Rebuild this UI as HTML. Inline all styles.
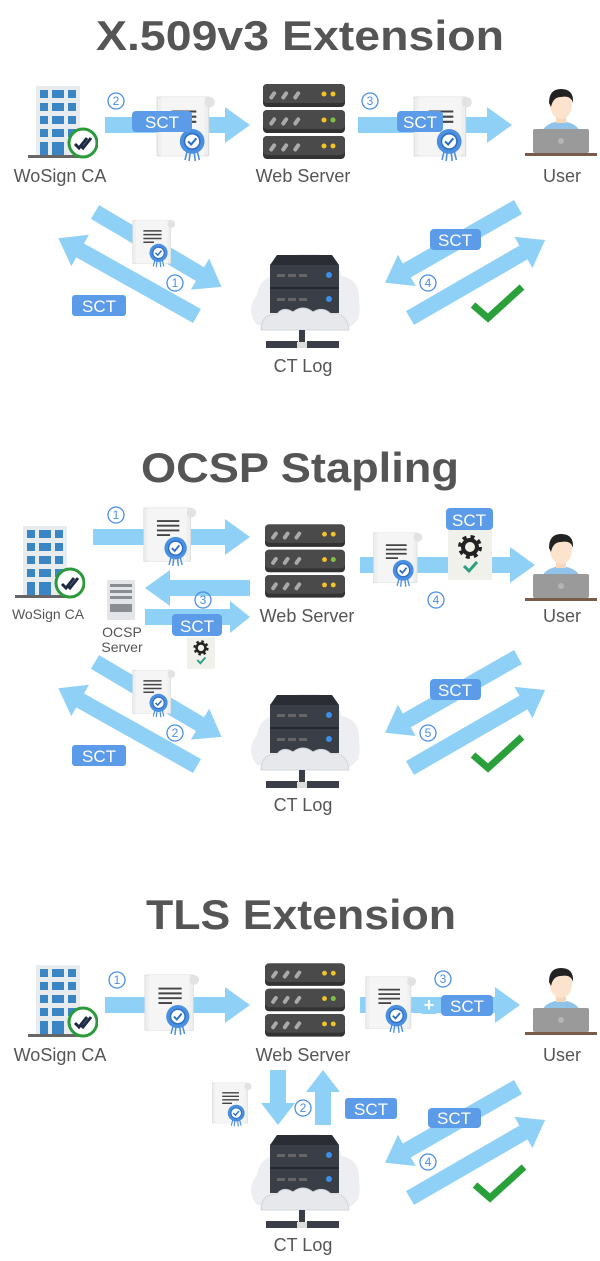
<!DOCTYPE html>
<html><head><meta charset="utf-8"><style>
html,body{margin:0;padding:0;background:#fff;}
svg{display:block;}
text{font-family:"Liberation Sans","DejaVu Sans",sans-serif;}
</style></head><body>
<svg width="600" height="1261" viewBox="0 0 600 1261" xmlns="http://www.w3.org/2000/svg">
<defs>
<symbol id="cert" viewBox="0 0 60 66">
 <rect x="2" y="3" width="50" height="57" fill="#eeeff1" stroke="#dcdcdc"/>
 <rect x="6" y="3" width="42" height="57" fill="#f5f5f6"/>
 <circle cx="53" cy="8" r="5" fill="#e2e2e2"/>
 <g stroke="#444" stroke-width="2"><line x1="16" y1="17" x2="40" y2="17"/><line x1="16" y1="22" x2="40" y2="22"/><line x1="16" y1="27" x2="40" y2="27"/><line x1="16" y1="32" x2="30" y2="32"/></g>
 <g stroke="#4a8fe0" stroke-width="1.5"><line x1="31" y1="56" x2="29" y2="64"/><line x1="34" y1="57" x2="33" y2="65"/><line x1="38" y1="57" x2="39" y2="65"/><line x1="41" y1="56" x2="43" y2="64"/></g>
 <circle cx="36" cy="46" r="12" fill="#4a8fe0"/>
 <circle cx="36" cy="46" r="7.5" fill="#fff" stroke="#2d6fc4" stroke-width="1.5"/>
 <polyline points="32,46 35,49 40,43" fill="none" stroke="#2d6fc4" stroke-width="2"/>
</symbol>
<symbol id="server" viewBox="0 0 82 76">
 <g id="srow">
  <rect x="0" y="0" width="82" height="23" rx="4" fill="#333"/>
  <rect x="0" y="0" width="82" height="19" rx="4" fill="#4a4a4a"/>
  <g fill="#aaa"><rect x="8" y="7" width="4" height="9" rx="2" transform="rotate(35 10 11)"/><rect x="20" y="7" width="4" height="9" rx="2" transform="rotate(35 22 11)"/><rect x="32" y="7" width="4" height="9" rx="2" transform="rotate(35 34 11)"/></g>
  <circle cx="61" cy="10" r="2.5" fill="#f3c42a"/><circle cx="70" cy="10" r="2.5" fill="#f3c42a"/>
 </g>
 <use href="#srow" y="26"/>
 <use href="#srow" y="52"/>
 <circle cx="70" cy="36" r="2.5" fill="#7bc043"/>
</symbol>
<symbol id="building" viewBox="0 0 70 75">
 <rect x="8" y="2" width="44" height="70" fill="#e9ecef"/>
 <g fill="#3a86c4">
  <rect x="12" y="6" width="8" height="8"/><rect x="24" y="6" width="12" height="8"/><rect x="40" y="6" width="8" height="8"/>
  <rect x="12" y="19" width="8" height="8"/><rect x="24" y="19" width="12" height="8"/><rect x="40" y="19" width="8" height="8"/>
  <rect x="12" y="32" width="8" height="8"/><rect x="24" y="32" width="12" height="8"/><rect x="40" y="32" width="8" height="8"/>
  <rect x="12" y="45" width="8" height="8"/><rect x="24" y="45" width="12" height="8"/><rect x="40" y="45" width="8" height="8"/>
  <rect x="12" y="58" width="8" height="14"/><rect x="24" y="58" width="12" height="14"/>
 </g>
 <rect x="0" y="71" width="55" height="3" fill="#666"/>
 <circle cx="55" cy="59" r="14" fill="#fff" stroke="#2a9a3a" stroke-width="3"/>
 <polyline points="47,60 51,64 59,54" fill="none" stroke="#1e2a44" stroke-width="3"/>
 <polyline points="53,62 55,64 63,54" fill="none" stroke="#1e2a44" stroke-width="3"/>
</symbol>
<symbol id="user" viewBox="0 0 72 72">
 <path d="M16 50 Q18 38 36 36 Q54 38 56 50 Z" fill="#8fc3ea"/>
 <rect x="31" y="28" width="10" height="10" fill="#f6d7bb"/>
 <ellipse cx="36" cy="20" rx="11" ry="14" fill="#fbe3cd"/>
 <path d="M24 18 Q24 4 36 4 Q49 4 48 18 Q46 10 36 12 Q28 12 26 22 Z" fill="#222"/>
 <rect x="8" y="44" width="56" height="24" rx="2" fill="#9a9a9a"/>
 <circle cx="36" cy="56" r="3" fill="#b5b5b5"/>
 <rect x="0" y="68" width="72" height="3" fill="#7a5a48"/>
</symbol>
<symbol id="ctlog" viewBox="0 0 115 100">
 <path d="M10 75 Q-2 60 10 45 Q12 28 28 26 Q38 2 60 4 Q88 2 95 26 Q114 30 112 52 Q116 72 100 78 Z" fill="#eceef1"/>
 <polygon points="30,5 85,5 92,15 23,15" fill="#2a2d33"/>
 <rect x="23" y="15" width="69" height="48" fill="#3a3e46"/>
 <line x1="23" y1="38" x2="92" y2="38" stroke="#26292e" stroke-width="2"/>
 <g fill="#666"><rect x="30" y="24" width="8" height="3"/><rect x="41" y="24" width="8" height="3"/><rect x="52" y="24" width="8" height="3"/><rect x="30" y="48" width="8" height="3"/><rect x="41" y="48" width="8" height="3"/><rect x="52" y="48" width="8" height="3"/></g>
 <circle cx="82" cy="25" r="3" fill="#3f8fe8"/><circle cx="82" cy="49" r="3" fill="#3f8fe8"/>
 <path d="M14 80 Q14 64 30 64 Q36 56 46 62 Q56 54 66 62 Q76 56 84 64 Q100 62 102 80 Z" fill="#e6e8eb" stroke="#d2d6db"/>
 <rect x="52" y="80" width="6" height="12" fill="#3a3e46"/>
 <rect x="19" y="91" width="32" height="7" fill="#3a3e46"/><rect x="60" y="91" width="32" height="7" fill="#3a3e46"/>
 <rect x="50" y="92" width="10" height="6" fill="#ddd"/>
</symbol>
<symbol id="check" viewBox="0 0 55 40">
 <polyline points="3,22 18,35 52,4" fill="none" stroke="#2aa03a" stroke-width="7"/>
</symbol>
<symbol id="gear" viewBox="0 0 44 50">
 <rect x="0" y="0" width="44" height="50" fill="#f1f1ec"/>
 <circle cx="22" cy="17" r="9" fill="none" stroke="#222" stroke-width="6" stroke-dasharray="3.5 3.6"/>
 <circle cx="22" cy="17" r="7" fill="none" stroke="#222" stroke-width="4"/>
 <polyline points="16,36 21,41 29,32" fill="none" stroke="#2aa080" stroke-width="3"/>
</symbol>
</defs>

<g fill="#8fd0f6">
<!-- SECTION 1 -->
<polygon points="105,117 225,117 225,107 250,125 225,143 225,133 105,133"/>
<polygon points="358,117 487,117 487,107 512,125 487,143 487,133 358,133"/>
<g transform="translate(95,212) rotate(30.6)"><polygon points="0,-8 122,-8 122,-18 147,0 122,18 122,8 0,8"/></g>
<g transform="translate(197,316) rotate(209.3)"><polygon points="0,-8 134,-8 134,-18 159,0 134,18 134,8 0,8"/></g>
<g transform="translate(518,207) rotate(150.3)"><polygon points="0,-8 128,-8 128,-18 153,0 128,18 128,8 0,8"/></g>
<g transform="translate(410,318) rotate(-30)"><polygon points="0,-8 131,-8 131,-18 156,0 131,18 131,8 0,8"/></g>
<!-- SECTION 2 -->
<polygon points="93,529 225,529 225,519 250,537 225,555 225,545 93,545"/>
<polygon points="250,580 170,580 170,570 145,588 170,606 170,596 250,596"/>
<polygon points="145,609 230,609 230,601 250,617 230,633 230,625 145,625"/>
<polygon points="360,557 510,557 510,547 535,565 510,583 510,573 360,573"/>
<g transform="translate(95,662) rotate(30.6)"><polygon points="0,-8 122,-8 122,-18 147,0 122,18 122,8 0,8"/></g>
<g transform="translate(197,766) rotate(209.3)"><polygon points="0,-8 134,-8 134,-18 159,0 134,18 134,8 0,8"/></g>
<g transform="translate(518,657) rotate(150.3)"><polygon points="0,-8 128,-8 128,-18 153,0 128,18 128,8 0,8"/></g>
<g transform="translate(410,768) rotate(-30)"><polygon points="0,-8 131,-8 131,-18 156,0 131,18 131,8 0,8"/></g>
<!-- SECTION 3 -->
<polygon points="105,997 225,997 225,987 250,1005 225,1023 225,1013 105,1013"/>
<polygon points="360,997 495,997 495,987 520,1005 495,1023 495,1013 360,1013"/>
<polygon points="270,1070 286,1070 286,1103 295,1103 278,1125 261,1103 270,1103"/>
<polygon points="315,1125 331,1125 331,1092 340,1092 323,1070 306,1092 315,1092"/>
<g transform="translate(518,1087) rotate(150.3)"><polygon points="0,-8 128,-8 128,-18 153,0 128,18 128,8 0,8"/></g>
<g transform="translate(410,1198) rotate(-30)"><polygon points="0,-8 131,-8 131,-18 156,0 131,18 131,8 0,8"/></g>
</g>

<!-- Titles -->
<g fill="#555" font-weight="bold" font-size="42" text-anchor="middle">
<text x="300" y="50" textLength="408" lengthAdjust="spacingAndGlyphs">X.509v3 Extension</text>
<text x="300" y="482" textLength="318" lengthAdjust="spacingAndGlyphs">OCSP Stapling</text>
<text x="301" y="929" textLength="310" lengthAdjust="spacingAndGlyphs">TLS Extension</text>
</g>

<!-- Section 1 icons -->
<use href="#building" x="28" y="84" width="70" height="75"/>
<use href="#cert" x="155" y="94" width="62" height="68"/>
<use href="#server" x="263" y="84" width="82" height="76"/>
<use href="#cert" x="412" y="94" width="62" height="68"/>
<use href="#user" x="525" y="85" width="72" height="72"/>
<use href="#cert" x="131" y="218" width="46" height="50"/>
<use href="#ctlog" x="247" y="250" width="115" height="100"/>
<use href="#check" x="470" y="283" width="55" height="40"/>

<!-- Section 2 icons -->
<use href="#building" x="15" y="524" width="70" height="75"/>
<use href="#cert" x="142" y="505" width="56" height="62"/>
<use href="#server" x="265" y="524" width="80" height="75"/>
<rect x="107" y="580" width="28" height="40" fill="#e3e5e8"/>
<g fill="#8a8d92"><rect x="110" y="584" width="22" height="3"/><rect x="110" y="590" width="22" height="3"/><rect x="110" y="596" width="22" height="3"/><rect x="110" y="604" width="22" height="8"/></g>
<use href="#cert" x="372" y="524" width="52" height="70"/>
<use href="#gear" x="448" y="530" width="44" height="50"/>
<use href="#gear" x="187" y="636" width="28" height="34"/>
<use href="#user" x="525" y="530" width="72" height="72"/>
<use href="#cert" x="131" y="668" width="46" height="50"/>
<use href="#ctlog" x="247" y="690" width="115" height="100"/>
<use href="#check" x="470" y="733" width="55" height="40"/>

<!-- Section 3 icons -->
<use href="#building" x="28" y="963" width="70" height="75"/>
<use href="#cert" x="143" y="972" width="58" height="64"/>
<use href="#server" x="265" y="963" width="80" height="75"/>
<use href="#cert" x="364" y="973" width="54" height="62"/>
<rect x="420" y="997" width="18" height="17" rx="3" fill="#8fd0f6"/>
<text x="429" y="1011" font-size="18" fill="#fff" text-anchor="middle" font-weight="bold">+</text>
<use href="#user" x="525" y="964" width="72" height="72"/>
<use href="#cert" x="211" y="1080" width="42" height="48"/>
<use href="#ctlog" x="247" y="1130" width="115" height="100"/>
<use href="#check" x="472" y="1163" width="55" height="40"/>

<!-- SCT labels -->
<g fill="#5b9be8">
<rect x="132" y="111" width="60" height="21" rx="4"/>
<rect x="397" y="111" width="46" height="21" rx="4"/>
<rect x="72" y="295" width="54" height="21" rx="3"/>
<rect x="430" y="229" width="51" height="21" rx="4"/>
<rect x="446" y="508" width="47" height="22" rx="4"/>
<rect x="172" y="614" width="50" height="22" rx="4"/>
<rect x="72" y="745" width="54" height="21" rx="3"/>
<rect x="430" y="679" width="51" height="21" rx="4"/>
<rect x="441" y="995" width="52" height="21" rx="4"/>
<rect x="345" y="1098" width="52" height="21" rx="3"/>
<rect x="428" y="1108" width="53" height="20" rx="4"/>
</g>
<g fill="#fff" font-size="17" text-anchor="middle">
<text x="162" y="128">SCT</text><text x="420" y="128">SCT</text>
<text x="99" y="312">SCT</text><text x="455" y="246">SCT</text>
<text x="469" y="526">SCT</text><text x="197" y="632">SCT</text>
<text x="99" y="762">SCT</text><text x="455" y="696">SCT</text>
<text x="467" y="1012">SCT</text><text x="371" y="1115">SCT</text><text x="454" y="1124">SCT</text>
</g>

<!-- circled numbers -->
<g fill="none" stroke="#4a8fe8" stroke-width="1.3">
<circle cx="116" cy="101" r="8"/><circle cx="370" cy="101" r="8"/><circle cx="175" cy="283" r="8"/><circle cx="428" cy="283" r="8"/>
<circle cx="116" cy="515" r="8"/><circle cx="203" cy="600" r="8"/><circle cx="436" cy="600" r="8"/><circle cx="175" cy="733" r="8"/><circle cx="428" cy="733" r="8"/>
<circle cx="117" cy="980" r="8"/><circle cx="443" cy="979" r="8"/><circle cx="303" cy="1108" r="8"/><circle cx="428" cy="1162" r="8"/>
</g>
<g fill="#4a8fe8" font-size="12" text-anchor="middle">
<text x="116" y="105">2</text><text x="370" y="105">3</text><text x="175" y="287">1</text><text x="428" y="287">4</text>
<text x="116" y="519">1</text><text x="203" y="604">3</text><text x="436" y="604">4</text><text x="175" y="737">2</text><text x="428" y="737">5</text>
<text x="117" y="984">1</text><text x="443" y="983">3</text><text x="303" y="1112">2</text><text x="428" y="1166">4</text>
</g>

<!-- node labels -->
<g fill="#555" font-size="18" text-anchor="middle">
<text x="60" y="182">WoSign CA</text><text x="303" y="182">Web Server</text><text x="562" y="182">User</text>
<text x="303" y="372">CT Log</text>
<text x="307" y="622">Web Server</text><text x="562" y="622">User</text>
<text x="303" y="811">CT Log</text>
<text x="60" y="1061">WoSign CA</text><text x="303" y="1061">Web Server</text><text x="562" y="1061">User</text>
<text x="303" y="1251">CT Log</text>
</g>
<g fill="#555" font-size="14" text-anchor="middle">
<text x="48" y="619">WoSign CA</text>
<text x="122" y="637">OCSP</text><text x="122" y="652">Server</text>
</g>
</svg>
</body></html>
